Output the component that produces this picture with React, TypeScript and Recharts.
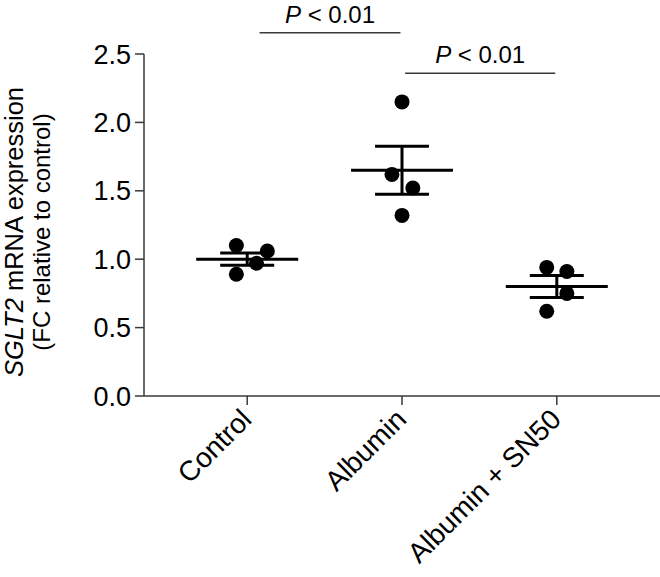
import React from 'react';
import {
  ScatterChart,
  Scatter,
  XAxis,
  YAxis,
  ErrorBar,
  ReferenceLine,
} from 'recharts';

const groups = ['Control', 'Albumin', 'Albumin + SN50'];

// individual replicates (fold change)
const controlValues = [1.1, 1.06, 0.97, 0.89];
const albuminValues = [2.15, 1.62, 1.52, 1.32];
const sn50Values = [0.94, 0.91, 0.75, 0.62];

// horizontal spread of the dots, in category units
const controlJitter = [-0.07, 0.13, 0.06, -0.07];
const albuminJitter = [0, -0.065, 0.07, 0];
const sn50Jitter = [-0.065, 0.065, 0.065, -0.065];

const groupMeans = [1.0, 1.65, 0.8];
const groupSem = [0.045, 0.175, 0.08];

const yTicks = [0, 0.5, 1, 1.5, 2, 2.5];

const comparisons = [
  { x1: 0.08, x2: 0.99, level: 2.655, label: '< 0.01' },
  { x1: 1.02, x2: 1.99, level: 2.36, label: '< 0.01' },
];

const FONT = '"Liberation Sans", Arial, Helvetica, sans-serif';
const AXIS = '#3a3a3a';

const values = [controlValues, albuminValues, sn50Values];
const jitters = [controlJitter, albuminJitter, sn50Jitter];
const points = values.flatMap((vals, g) =>
  vals.map((v, i) => ({ x: g + jitters[g][i], y: v }))
);
const means = groupMeans.map((m, g) => ({ x: g, y: m, sem: groupSem[g] }));

const Dot = (props: any) => <circle cx={props.cx} cy={props.cy} r={7.5} fill="#000" />;

const MeanLine = (props: any) => (
  <line x1={props.cx - 51} x2={props.cx + 51} y1={props.cy} y2={props.cy} stroke="#000" strokeWidth={3} />
);

const GroupTick = ({ x, y, payload }: any) => (
  <text
    transform={`translate(${x + 6},${y + 14}) rotate(-45)`}
    textAnchor="end"
    fontSize={28}
    fontFamily={FONT}
    fill="#000"
  >
    {groups[payload.value]}
  </text>
);

const PLabel = ({ viewBox, text }: any) => {
  const cx = viewBox.x + viewBox.width / 2;
  return (
    <text x={cx} y={viewBox.y - 10} textAnchor="middle" fontSize={24} fontFamily={FONT} fill="#000">
      <tspan fontStyle="italic">P</tspan> {text}
    </text>
  );
};

const YLabel = ({ viewBox }: any) => {
  const cy = viewBox.y + viewBox.height / 2 + 7;
  return (
    <g fontFamily={FONT} fill="#000">
      <text transform={`translate(23,${cy}) rotate(-90)`} textAnchor="middle" fontSize={25.5}>
        <tspan fontStyle="italic">SGLT2</tspan> mRNA expression
      </text>
      <text transform={`translate(50,${cy}) rotate(-90)`} textAnchor="middle" fontSize={24}>
        (FC relative to control)
      </text>
    </g>
  );
};

export default function App() {
  return (
    <div style={{ position: 'absolute', left: 0, top: 0, background: '#fff' }}>
      <ScatterChart width={660} height={577} margin={{ top: 54, right: 0, bottom: 0, left: 0 }}>
        <XAxis
          type="number"
          dataKey="x"
          domain={[-2 / 3, 8 / 3]}
          ticks={[0, 1, 2]}
          allowDataOverflow
          height={181}
          stroke={AXIS}
          strokeWidth={1.5}
          tickSize={9}
          tick={<GroupTick />}
        />
        <YAxis
          type="number"
          dataKey="y"
          domain={[0, 2.5]}
          ticks={yTicks}
          allowDataOverflow
          width={144}
          stroke={AXIS}
          strokeWidth={1.5}
          tickSize={9}
          tickMargin={4}
          tickFormatter={(v: number) => v.toFixed(1)}
          tick={{ fontSize: 27, fontFamily: FONT, fill: '#000' }}
          label={<YLabel />}
        />
        {comparisons.map((c, i) => (
          <ReferenceLine
            key={i}
            ifOverflow="visible"
            segment={[
              { x: c.x1, y: c.level },
              { x: c.x2, y: c.level },
            ]}
            stroke={AXIS}
            strokeWidth={1.5}
            label={<PLabel text={c.label} />}
          />
        ))}
        <Scatter data={means} shape={<MeanLine />} isAnimationActive={false}>
          <ErrorBar dataKey="sem" direction="y" width={27} stroke="#000" strokeWidth={3} />
        </Scatter>
        <Scatter data={points} shape={<Dot />} isAnimationActive={false} />
      </ScatterChart>
    </div>
  );
}
